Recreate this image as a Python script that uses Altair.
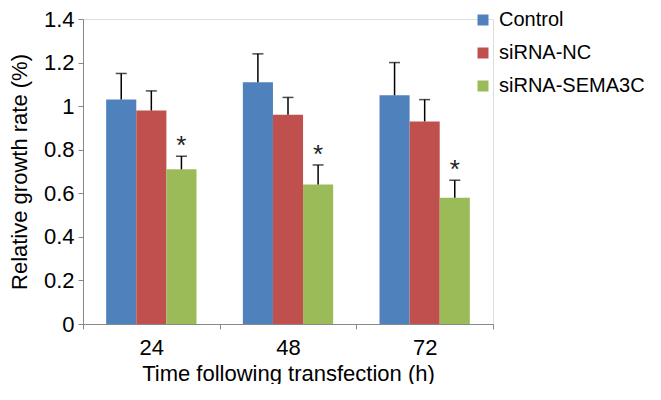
import altair as alt
import pandas as pd

times = ["24", "48", "72"]
groups = ["Control", "siRNA-NC", "siRNA-SEMA3C"]
control = [1.03, 1.11, 1.05]
control_err = [0.12, 0.13, 0.15]
nc = [0.98, 0.96, 0.93]
nc_err = [0.09, 0.08, 0.10]
sema = [0.71, 0.64, 0.58]
sema_err = [0.06, 0.09, 0.08]
colors = ["#4F81BD", "#C0504D", "#9BBB59"]

rows = []
for g, vals, errs in [("Control", control, control_err), ("siRNA-NC", nc, nc_err), ("siRNA-SEMA3C", sema, sema_err)]:
    for t, v, e in zip(times, vals, errs):
        rows.append({"time": t, "group": g, "value": v, "top": v + e,
                     "star": "*" if g == "siRNA-SEMA3C" else ""})
df = pd.DataFrame(rows)

FONT = "Liberation Sans"
FS = 22

x = alt.X("time:N", sort=times, title="Time following transfection (h)",
          scale=alt.Scale(paddingInner=0, paddingOuter=0),
          axis=alt.Axis(labelAngle=0, tickBand="extent", labelFontSize=FS, titleFontSize=FS,
                        labelFont=FONT, titleFont=FONT, titleFontWeight="normal",
                        labelColor="#000", titleColor="#000", domainColor="#888",
                        tickColor="#888", tickSize=5, labelPadding=8, titlePadding=5))
xo = alt.XOffset("group:N", sort=groups, scale=alt.Scale(paddingInner=0, paddingOuter=0.77))

y_scale = alt.Scale(domain=[0, 1.4], nice=False)

bars = alt.Chart(df).mark_bar(strokeWidth=0.8).encode(
    x=x, xOffset=xo,
    y=alt.Y("value:Q", scale=y_scale, title="Relative growth rate (%)",
            axis=alt.Axis(values=[0, 0.2, 0.4, 0.6, 0.8, 1.0, 1.2, 1.4], grid=False,
                          labelExpr="format(datum.value, '~g')",
                          labelFontSize=FS, titleFontSize=FS, labelFont=FONT, titleFont=FONT,
                          titleFontWeight="normal", labelColor="#000", titleColor="#000",
                          domainColor="#888", tickColor="#888", tickSize=5, labelPadding=4,
                          titlePadding=12)),
    color=alt.Color("group:N", sort=groups,
                    scale=alt.Scale(domain=groups, range=colors),
                    legend=alt.Legend(title=None, orient="none", legendX=390, legendY=-9,
                                      symbolType="square", symbolSize=121, symbolStrokeWidth=0,
                                      labelFontSize=20, labelFont=FONT, labelColor="#000",
                                      labelLimit=400,
                                      rowPadding=13, labelOffset=6, padding=0)),
)

rules = alt.Chart(df).mark_rule(color="black", strokeWidth=1.5).encode(
    x=x, xOffset=xo, y="value:Q", y2="top:Q")
caps = alt.Chart(df).mark_tick(color="black", thickness=1.5, size=11).encode(
    x=x, xOffset=xo, y="top:Q")
stars = alt.Chart(df).mark_text(fontSize=26, font=FONT, baseline="alphabetic", dy=-2, color="#222").encode(
    x=x, xOffset=xo, y="top:Q", text="star:N")

chart = alt.layer(bars, rules, caps, stars).properties(
    width=410, height=305,
    padding={"left": 0, "top": 0, "right": 0, "bottom": 0}
).configure_view(stroke=None).configure(background="white")

chart.save("out.html", embed_options={"renderer": "svg", "actions": False})
